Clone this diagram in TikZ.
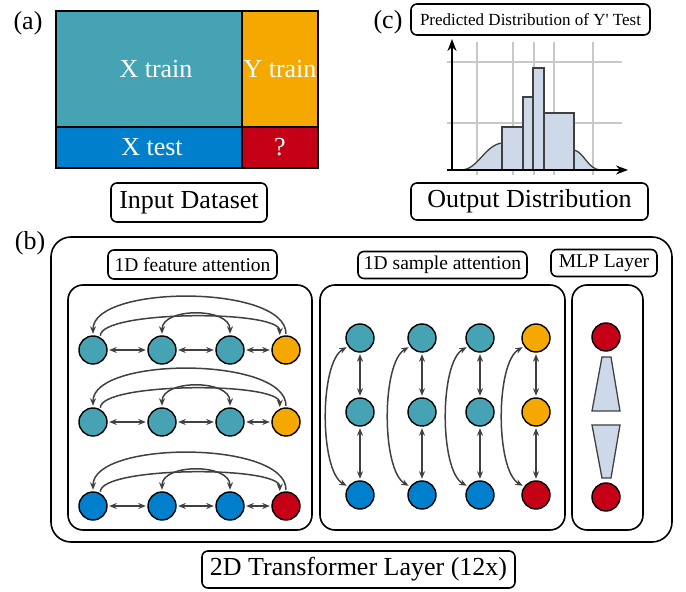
\documentclass[tikz,border=0pt]{standalone}
\usepackage{fontspec}
\setmainfont{Liberation Serif}
\usetikzlibrary{arrows.meta}

\definecolor{tealc}{RGB}{70,163,180}
\definecolor{orangec}{RGB}{245,168,0}
\definecolor{bluec}{RGB}{0,128,204}
\definecolor{redc}{RGB}{197,0,22}
\definecolor{histfill}{RGB}{205,216,232}
\definecolor{gridgray}{RGB}{200,200,200}
\definecolor{arrowgray}{RGB}{64,64,64}

\begin{document}
\begin{tikzpicture}[x=1pt, y=1pt,
  cell/.style={rectangle, draw, line width=1.6pt, inner sep=0pt, text=white, font=\fontsize{26}{28}\selectfont},
  tag/.style={rectangle, draw, rounded corners=6pt, line width=1.6pt, inner sep=0pt, font=\fontsize{26}{28}\selectfont},
  panel/.style={rectangle, draw, rounded corners=15pt, line width=1.6pt},
  tok/.style={circle, draw, line width=1.4pt, minimum size=28pt, inner sep=0pt},
  link/.style={draw=arrowgray, line width=1.5pt, shorten >=1.5pt, shorten <=1.5pt},
  >={Stealth[length=7.5pt,width=6pt]}
]
  \useasboundingbox (0,0) rectangle (686,592);

  % (a) input table
  \node[font=\fontsize{26}{28}\selectfont] (la) at (28,569) {(a)};
  \node[cell, fill=tealc, minimum width=186, minimum height=116] (xtrain) at (149,523) {\hspace{14pt}X train};
  \node[cell, fill=orangec, minimum width=76, minimum height=116] (ytrain) at (280,523) {Y train};
  \node[cell, fill=bluec, minimum width=186, minimum height=41] (xtest) at (149,444.5) {\hspace{6pt}X test};
  \node[cell, fill=redc, minimum width=76, minimum height=41] (ytest) at (280,444.5) {?};
  \node[tag, minimum width=156, minimum height=39] (input) at (189,389.5) {Input Dataset};

  % (c) output histogram
  \node[font=\fontsize{26}{28}\selectfont] (lc) at (388,570) {(c)};
  \node[tag, font=\fontsize{17}{19}\selectfont, minimum width=239, minimum height=31] (pred) at (530.5,572.5) {Predicted Distribution of Y\textquotesingle\ Test};
  \draw[gridgray, line width=1.3pt]
    (477,417) -- (477,550) (513,417) -- (513,550) (534,417) -- (534,550)
    (554,417) -- (554,550) (593,417) -- (593,550)
    (447,530) -- (622,530) (447,469) -- (622,469);
  \fill[histfill] (462,422) .. controls (478,423) and (485,447) .. (502,449) -- (502,422) -- cycle;
  \draw[arrowgray, line width=1.3pt] (462,422) .. controls (478,423) and (485,447) .. (502,449);
  \fill[histfill] (574,442) .. controls (584,440) and (588,422) .. (601,422) -- (574,422) -- cycle;
  \draw[arrowgray, line width=1.3pt] (574,442) .. controls (584,440) and (588,422) .. (601,422);
  \draw[fill=histfill, draw=arrowgray, line width=1.3pt] (502,422) rectangle (523,465);
  \draw[fill=histfill, draw=arrowgray, line width=1.3pt] (523,422) rectangle (533,495);
  \draw[fill=histfill, draw=arrowgray, line width=1.3pt] (533,422) rectangle (544,524);
  \draw[fill=histfill, draw=arrowgray, line width=1.3pt] (544,422) rectangle (574,479);
  \coordinate (orig) at (452,422);
  \coordinate (ytop) at (452,553);
  \coordinate (xend) at (628,422);
  \draw[line width=1.8pt, -{Stealth[length=12pt,width=9pt]}] (orig) -- (ytop);
  \draw[line width=1.8pt, -{Stealth[length=12pt,width=9pt]}] (447,422) -- (xend);
  \node[tag, minimum width=237, minimum height=37] (output) at (529.5,390.5) {Output Distribution};

  % (b) transformer layer
  \node[font=\fontsize{26}{28}\selectfont] (lb) at (30,349) {(b)};
  \node[panel, rounded corners=20pt, minimum width=621, minimum height=305] (layer) at (361.5,202.5) {};
  \node[panel, minimum width=244, minimum height=245] (fpanel) at (190,184.5) {};
  \node[panel, minimum width=245, minimum height=245] (spanel) at (442.5,184.5) {};
  \node[panel, minimum width=71, minimum height=245] (mpanel) at (607.5,184.5) {};
  \node[tag, font=\fontsize{19.5}{21}\selectfont, minimum width=169, minimum height=29] (flabel) at (192.5,327.5) {1D feature attention};
  \node[tag, font=\fontsize{19.5}{21}\selectfont, minimum width=169, minimum height=27] (slabel) at (442.5,327) {1D sample attention};
  \node[tag, font=\fontsize{19.5}{21}\selectfont, minimum width=106, minimum height=27] (mlabel) at (604,329) {MLP Layer};
  \node[tag, minimum width=313, minimum height=37] (tlabel) at (358.5,22.5) {2D Transformer Layer (12x)};

  % feature attention rows
  \node[tok, fill=tealc] (f11) at (93,242) {};
  \node[tok, fill=tealc] (f12) at (162,242) {};
  \node[tok, fill=tealc] (f13) at (230,242) {};
  \node[tok, fill=orangec] (f14) at (286,242) {};
  \node[tok, fill=tealc] (f21) at (93,170) {};
  \node[tok, fill=tealc] (f22) at (162,170) {};
  \node[tok, fill=tealc] (f23) at (230,170) {};
  \node[tok, fill=orangec] (f24) at (286,170) {};
  \node[tok, fill=bluec] (f31) at (93,86) {};
  \node[tok, fill=bluec] (f32) at (162,86) {};
  \node[tok, fill=bluec] (f33) at (230,86) {};
  \node[tok, fill=redc] (f34) at (286,86) {};

  \draw[link,<->] (f11) -- (f12);
  \draw[link,<->] (f12) -- (f13);
  \draw[link,<->] (f13) -- (f14);
  \draw[link,->] (f14.north) to[out=90,in=90,distance=51pt] (f11.north);
  \draw[link,->] (f11.60) to[out=90,in=90,distance=27pt] (f14.115);
  \draw[link,<->] (f12.north) to[out=90,in=90,distance=28pt] (f13.north);

  \draw[link,<->] (f21) -- (f22);
  \draw[link,<->] (f22) -- (f23);
  \draw[link,<->] (f23) -- (f24);
  \draw[link,->] (f24.north) to[out=90,in=90,distance=51pt] (f21.north);
  \draw[link,->] (f21.60) to[out=90,in=90,distance=27pt] (f24.115);
  \draw[link,<->] (f22.north) to[out=90,in=90,distance=28pt] (f23.north);

  \draw[link,<->] (f31) -- (f32);
  \draw[link,<->] (f32) -- (f33);
  \draw[link,<->] (f33) -- (f34);
  \draw[link,->] (f34.north) to[out=90,in=90,distance=51pt] (f31.north);
  \draw[link,->] (f31.60) to[out=90,in=90,distance=27pt] (f34.115);
  \draw[link,<->] (f32.north) to[out=90,in=90,distance=28pt] (f33.north);

  % sample attention columns
  \node[tok, fill=tealc] (s11) at (360,254) {};
  \node[tok, fill=tealc] (s21) at (360,180) {};
  \node[tok, fill=bluec] (s31) at (360,97) {};
  \node[tok, fill=tealc] (s12) at (422,254) {};
  \node[tok, fill=tealc] (s22) at (422,180) {};
  \node[tok, fill=bluec] (s32) at (422,97) {};
  \node[tok, fill=tealc] (s13) at (480,254) {};
  \node[tok, fill=tealc] (s23) at (480,180) {};
  \node[tok, fill=bluec] (s33) at (480,97) {};
  \node[tok, fill=orangec] (s14) at (536,254) {};
  \node[tok, fill=orangec] (s24) at (536,180) {};
  \node[tok, fill=redc] (s34) at (536,97) {};

  \draw[link,<->] (s11) -- (s21);
  \draw[link,<->] (s21) -- (s31);
  \draw[link,<->] (s11.215) to[out=210,in=150,distance=33pt] (s31.145);
  \draw[link,<->] (s12) -- (s22);
  \draw[link,<->] (s22) -- (s32);
  \draw[link,<->] (s12.215) to[out=210,in=150,distance=33pt] (s32.145);
  \draw[link,<->] (s13) -- (s23);
  \draw[link,<->] (s23) -- (s33);
  \draw[link,<->] (s13.215) to[out=210,in=150,distance=33pt] (s33.145);
  \draw[link,<->] (s14) -- (s24);
  \draw[link,<->] (s24) -- (s34);
  \draw[link,<->] (s14.215) to[out=210,in=150,distance=33pt] (s34.145);

  % mlp
  \node[tok, fill=redc] (m1) at (606,255) {};
  \node[tok, fill=redc] (m2) at (606,95) {};
  \draw[fill=histfill, draw=arrowgray, line width=1.3pt] (602,235) -- (611,235) -- (620,181) -- (592,181) -- cycle;
  \draw[fill=histfill, draw=arrowgray, line width=1.3pt] (592,167) -- (620,167) -- (611,114) -- (602,114) -- cycle;
\end{tikzpicture}
\end{document}
